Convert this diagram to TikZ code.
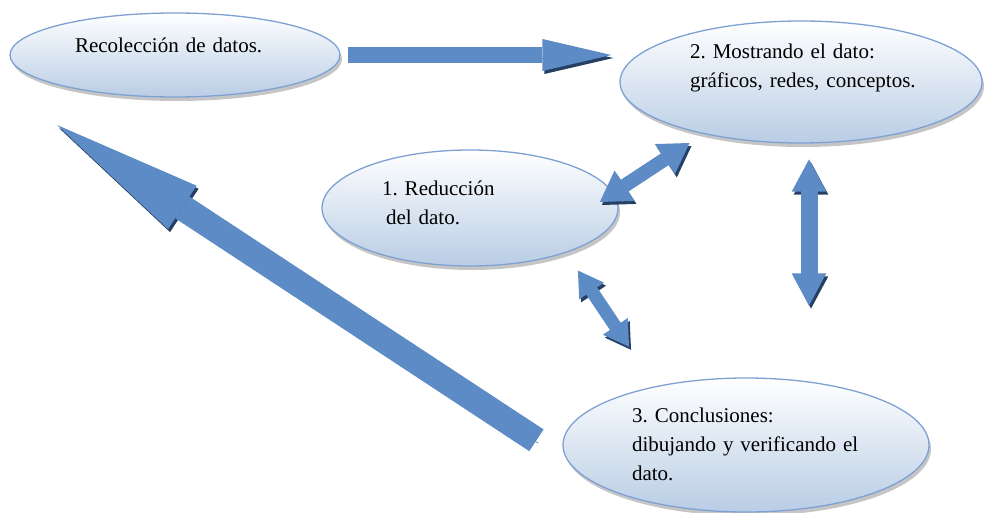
\documentclass[tikz,border=0pt]{standalone}
\usepackage{fontspec}
\setmainfont{Liberation Serif}
\frenchspacing
\usetikzlibrary{arrows.meta,positioning,calc,shapes.geometric,shadows}
\definecolor{ideaborder}{RGB}{126,161,211}
\definecolor{ideablue}{RGB}{185,205,229}
\definecolor{flowblue}{RGB}{92,139,197}
\definecolor{flowshadow}{RGB}{38,64,100}
\tikzset{
  idea/.style={ellipse,draw=ideaborder,line width=1.3pt,top color=white,
    bottom color=ideablue,align=left,inner sep=0pt,text height=15pt,
    font=\fontsize{21pt}{29pt}\selectfont,
    drop shadow={shadow xshift=2pt,shadow yshift=-4pt,fill=black!45,opacity=.5}},
  fatflow/.style n args={3}{line width=#1,draw=flowblue,
    -{Triangle[length=#2,width=#3,line width=0pt]},
    preaction={draw=flowshadow,transform canvas={shift={(2pt,-3pt)}}}},
  fatboth/.style n args={3}{line width=#1,draw=flowblue,
    {Triangle[length=#2,width=#3]}-{Triangle[length=#2,width=#3]},
    preaction={draw=flowshadow,transform canvas={shift={(2pt,-3pt)}}}}
}
\begin{document}
\begin{tikzpicture}[x=1pt,y=-1pt]
\useasboundingbox (0,0) rectangle (984,513);
\node[idea, minimum width=330pt, minimum height=84pt, text width=200pt,
  text depth=19pt] (recol) at (175,55) {Recolección de datos.};
\node[idea, minimum width=362pt, minimum height=122pt, text width=222pt,
  text depth=61pt] (mostr) at (801,82)
  {2. Mostrando el dato:\\\mbox{gráficos, redes, conceptos.}};
\node[idea, minimum width=296pt, minimum height=116pt, text width=176pt,
  text depth=41pt] (reduc) at (470,208) {1. Reducción\\\hspace*{4pt}del dato.};
\node[idea, minimum width=366pt, minimum height=134pt, text width=228pt,
  text depth=61pt] (concl) at (746,445)
  {3. Conclusiones:\\dibujando y verificando el\\dato.};
\coordinate (backtip) at (57,125);
% block arrows
\draw[fatflow={16pt}{69pt}{32pt}, shorten <=7pt, shorten >=8pt]
  (recol.east) -- (recol.east -| mostr.west);
\draw[fatboth={14pt}{30pt}{34pt}, shorten <=-17pt, shorten >=16pt]
  (reduc.6) -- (mostr.208);
\draw[fatboth={17pt}{33pt}{32pt}, shorten <=15pt, shorten >=71pt]
  ([xshift=8pt]mostr.south) -- ([xshift=8pt]mostr.south |- concl.north);
\draw[fatboth={13pt}{25pt}{28pt}, shorten <=21pt, shorten >=47pt]
  (reduc.-25) -- (concl.147);
\draw[fatflow={26pt}{150pt}{52pt}, shorten <=37pt] (concl.185) -- (backtip);
\end{tikzpicture}
\end{document}
